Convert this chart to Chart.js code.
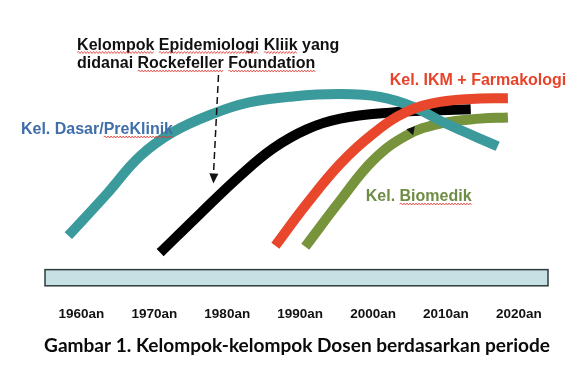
<!DOCTYPE html>
<html>
<head>
<meta charset="utf-8">
<script src="https://cdn.jsdelivr.net/npm/chart.js@4.4.1/dist/chart.umd.min.js"></script>
<style>
html, body { margin: 0; padding: 0; background: #fff; }
#wrap { width: 588px; height: 392px; }
</style>
</head>
<body>
<div id="wrap"><canvas id="myChart"></canvas></div>
<script>
// sumbu waktu
const decades = [1960, 1970, 1980, 1990, 2000, 2010, 2020];
const decadeLabels = ['1960an', '1970an', '1980an', '1990an', '2000an', '2010an', '2020an'];

// Kel. Dasar/PreKlinik
const dasarYears = [1958.2, 1963.5, 1968.0, 1972.6, 1978.1, 1983.0, 1989.0, 1995.5, 2001.0, 2005.5, 2010.0, 2017.1];
const dasarValues = [19.2, 35.3, 49.6, 59.0, 66.0, 70.3, 72.6, 73.5, 72.4, 68.6, 62.2, 53.5];

// Kelompok Epidemiologi Klinik
const epiYears = [1970.8, 1976.3, 1981.8, 1986.3, 1990.9, 1995.5, 2002.3, 2009.2, 2013.4];
const epiValues = [12.7, 27.7, 42.3, 52.7, 60.0, 64.1, 66.4, 67.3, 67.7];

// Kel. IKM + Farmakologi
const ikmYears = [1986.6, 1990.9, 1995.5, 2000.0, 2004.6, 2009.2, 2014.7, 2018.5];
const ikmValues = [15.4, 31.4, 46.8, 58.3, 66.7, 70.5, 71.8, 71.9];

// Kel. Biomedik
const bioYears = [1990.7, 1995.5, 2000.0, 2004.6, 2009.2, 2014.7, 2018.5];
const bioValues = [15.0, 32.7, 48.1, 57.7, 62.2, 64.1, 64.5];

const caption = 'Gambar 1. Kelompok-kelompok Dosen berdasarkan periode';

// teks keterangan: [teks, tahun, nilai, warna, kata bergaris merah]
const notes = [
    ['Kelompok Epidemiologi Kliik yang', 1959.4, 90.6, '#111111', ['Kelompok', 'Epidemiologi', 'Kliik']],
    ['didanai Rockefeller Foundation', 1959.4, 83.5, '#111111', ['Rockefeller', 'Foundation']],
    ['Kel. IKM + Farmakologi', 2002.3, 77.0, '#e8432a', []],
    ['Kel. Dasar/PreKlinik', 1951.7, 58.2, '#3f6eaa', ['PreKlinik']],
    ['Kel. Biomedik', 1999.0, 32.5, '#6e8c44', ['Biomedik']]
];

function pts(xs, ys) {
    return xs.map((x, i) => ({ x: x, y: ys[i] }));
}

function arrowHead(ctx, x0, y0, x1, y1, len, half) {
    const a = Math.atan2(y1 - y0, x1 - x0);
    ctx.beginPath();
    ctx.moveTo(x1, y1);
    ctx.lineTo(x1 - len * Math.cos(a) + half * Math.sin(a), y1 - len * Math.sin(a) - half * Math.cos(a));
    ctx.lineTo(x1 - len * Math.cos(a) - half * Math.sin(a), y1 - len * Math.sin(a) + half * Math.cos(a));
    ctx.closePath();
    ctx.fill();
}

function squiggle(ctx, x0, x1, y) {
    ctx.beginPath();
    ctx.moveTo(x0, y);
    let up = true;
    for (let x = x0 + 1.5; x <= x1; x += 1.5) {
        ctx.lineTo(x, y + (up ? -1 : 1));
        up = !up;
    }
    ctx.stroke();
}

const decor = {
    id: 'decor',
    beforeDatasetsDraw(chart) {
        const ctx = chart.ctx;
        const xs = chart.scales.x, ys = chart.scales.y;
        const top = ys.getPixelForValue(6.2), bottom = ys.getPixelForValue(0);
        ctx.save();
        ctx.fillStyle = '#c6e0e4';
        ctx.fillRect(xs.left, top, xs.right - xs.left, bottom - top);
        ctx.strokeStyle = '#2e3b3b';
        ctx.lineWidth = 1.5;
        ctx.strokeRect(xs.left, top, xs.right - xs.left, bottom - top);
        ctx.restore();
    },
    afterDatasetsDraw(chart) {
        const ctx = chart.ctx;
        const xs = chart.scales.x, ys = chart.scales.y;
        ctx.save();
        ctx.font = 'bold 16px "Liberation Sans", Arial, sans-serif';
        ctx.textBaseline = 'alphabetic';
        notes.forEach(n => {
            const x = xs.getPixelForValue(n[1]);
            const y = ys.getPixelForValue(n[2]);
            ctx.fillStyle = n[3];
            ctx.fillText(n[0], x, y);
            ctx.strokeStyle = '#e0352f';
            ctx.lineWidth = 0.8;
            n[4].forEach(w => {
                const i = n[0].indexOf(w);
                const x0 = x + ctx.measureText(n[0].slice(0, i)).width;
                const x1 = x0 + ctx.measureText(w).width;
                squiggle(ctx, x0, x1, y + 3);
            });
        });

        // panah putus-putus
        ctx.strokeStyle = '#111';
        ctx.fillStyle = '#111';
        ctx.lineWidth = 1.5;
        ctx.setLineDash([7, 4]);
        const ax0 = xs.getPixelForValue(1978.8), ay0 = ys.getPixelForValue(80.8);
        const ax1 = xs.getPixelForValue(1978.1), ay1 = ys.getPixelForValue(39.2);
        ctx.beginPath();
        ctx.moveTo(ax0, ay0);
        ctx.lineTo(ax1, ay1 - 8);
        ctx.stroke();
        ctx.setLineDash([]);
        arrowHead(ctx, ax0, ay0, ax1, ay1, 10, 4.5);

        // kepala panah kecil
        arrowHead(ctx, xs.getPixelForValue(2005.2), ys.getPixelForValue(60.2),
            xs.getPixelForValue(2005.5), ys.getPixelForValue(57.7), 8, 4.5);

        // judul gambar
        let size = 20;
        ctx.font = 'bold ' + size + 'px Lato, "Open Sans", sans-serif';
        size = size * 506 / ctx.measureText(caption).width;
        ctx.font = 'bold ' + size.toFixed(2) + 'px Lato, "Open Sans", sans-serif';
        ctx.fillStyle = '#0a0a0a';
        ctx.textAlign = 'center';
        ctx.textBaseline = 'middle';
        ctx.fillText(caption, (xs.left + xs.right) / 2 + 0.5, ys.getPixelForValue(0) + 60);
        ctx.restore();
    }
};

const lineStyle = {
    borderWidth: 10,
    pointRadius: 0,
    fill: false,
    tension: 0.4,
    borderCapStyle: 'butt'
};

const ctx = document.getElementById('myChart');
const myChart = new Chart(ctx, {
    type: 'line',
    data: {
        datasets: [
            { ...lineStyle, label: 'Kel. IKM + Farmakologi', data: pts(ikmYears, ikmValues), borderColor: '#e8472b', order: 0 },
            { ...lineStyle, label: 'Kel. Dasar/PreKlinik', data: pts(dasarYears, dasarValues), borderColor: '#3b9a9c', order: 1 },
            { ...lineStyle, label: 'Kelompok Epidemiologi Klinik', data: pts(epiYears, epiValues), borderColor: '#000000', order: 2 },
            { ...lineStyle, label: 'Kel. Biomedik', data: pts(bioYears, bioValues), borderColor: '#77933c', order: 3 }
        ]
    },
    options: {
        responsive: true,
        maintainAspectRatio: false,
        animation: false,
        layout: {
            padding: { left: 45, right: 40, top: 25, bottom: 58 }
        },
        plugins: {
            legend: { display: false },
            tooltip: { enabled: false }
        },
        scales: {
            x: {
                type: 'linear',
                min: 1955,
                max: 2024,
                grid: { display: false },
                border: { display: false },
                afterBuildTicks: (scale) => {
                    scale.ticks = decades.map(v => ({ value: v }));
                },
                ticks: {
                    autoSkip: false,
                    maxRotation: 0,
                    padding: 12,
                    color: '#111',
                    font: { family: '"Liberation Sans", Arial', size: 13.5, weight: 'bold' },
                    callback: (v) => decadeLabels[decades.indexOf(v)]
                }
            },
            y: {
                display: false,
                min: 0,
                max: 100
            }
        }
    },
    plugins: [decor]
});
</script>
</body>
</html>
